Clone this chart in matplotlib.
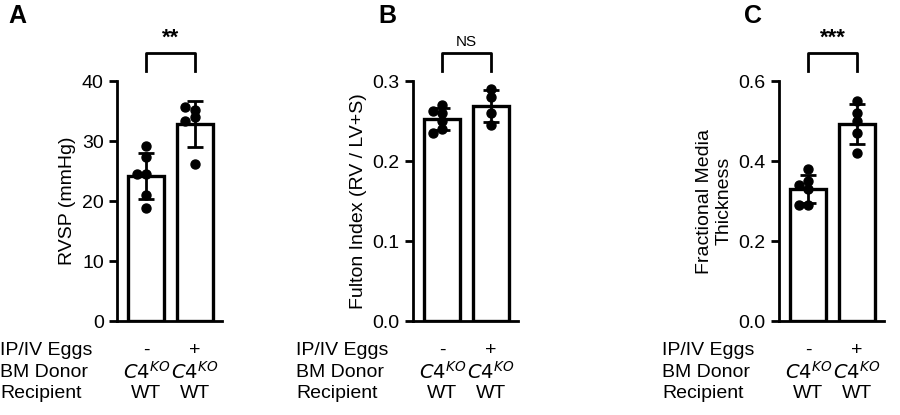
import matplotlib
matplotlib.use("Agg")
import matplotlib.pyplot as plt
import numpy as np

plt.rcParams['font.family'] = ['Liberation Sans', 'DejaVu Sans']

rvsp_ctrl = [29.2, 27.3, 24.5, 24.5, 21.0, 18.8]
rvsp_egg = [35.2, 35.7, 34.0, 33.3, 26.2]
fulton_ctrl = [0.27, 0.26, 0.262, 0.25, 0.24, 0.235]
fulton_egg = [0.29, 0.28, 0.26, 0.245]
fmt_ctrl = [0.38, 0.35, 0.34, 0.33, 0.29, 0.29]
fmt_egg = [0.55, 0.52, 0.50, 0.47, 0.42]

panels = [
    ("A", rvsp_ctrl, rvsp_egg, "RVSP (mmHg)", [0, 10, 20, 30, 40], ["0", "10", "20", "30", "40"], 40, "**"),
    ("B", fulton_ctrl, fulton_egg, "Fulton Index (RV / LV+S)", [0, 0.1, 0.2, 0.3], ["0.0", "0.1", "0.2", "0.3"], 0.3, "NS"),
    ("C", fmt_ctrl, fmt_egg, "Fractional Media\nThickness", [0, 0.2, 0.4, 0.6], ["0.0", "0.2", "0.4", "0.6"], 0.6, "***"),
]
lefts = [117, 413, 779]
letter_x = [8, 378, 744]


def swarm(vals, ymax, dx=0.2):
    # simple beeswarm: dot diameter ~ 0.03*ymax in y, dx in x
    r = 0.03 * ymax
    placed = []
    out = []
    for v in vals:
        for cand in [0, -dx, dx, -2 * dx, 2 * dx]:
            if all(abs(cand - px) >= dx * 0.9 or abs(v - py) >= r for px, py in placed):
                break
        placed.append((cand, v))
        out.append(cand)
    return np.array(out)


fig = plt.figure(figsize=(9, 4.15), dpi=100)
for i, (lab, c, e, ylab, ticks, tlabs, ymax, sig) in enumerate(panels):
    ax = fig.add_axes([lefts[i] / 900, 1 - 321 / 415, 105 / 900, 240 / 415])
    xs = [0, 1]
    for x, d in zip(xs, [c, e]):
        m = np.mean(d); s = np.std(d, ddof=1)
        ax.bar(x, m, width=0.74, color="white", edgecolor="black", linewidth=2.4, zorder=1)
        ax.errorbar(x, m, yerr=s, color="black", capsize=6, capthick=2, elinewidth=2, zorder=3)
        ax.scatter(x + swarm(d, ymax), d, s=42, color="black", zorder=4, clip_on=False)
    ax.set_xlim(-0.6, 1.55)
    ax.set_ylim(0, ymax)
    ax.set_yticks(ticks)
    ax.set_yticklabels(tlabs, fontsize=14)
    ax.set_xticks([])
    ax.tick_params(axis='y', width=2, length=6)
    for sp in ["top", "right"]:
        ax.spines[sp].set_visible(False)
    for sp in ["left", "bottom"]:
        ax.spines[sp].set_linewidth(2)
    ax.set_ylabel(ylab, fontsize=14)
    yb0 = ymax * 1.04; yb1 = ymax * 1.115
    ax.plot([0, 0, 1, 1], [yb0, yb1, yb1, yb0], color="black", lw=2, clip_on=False)
    ax.text(0.5, yb1 + ymax * 0.02, sig, ha="center", va="bottom",
            fontsize=16 if sig != "NS" else 11, fontweight="bold" if sig != "NS" else "normal")
    fig.text(letter_x[i] / 900, 1 - 16 / 415, lab, fontsize=18, fontweight="bold", va="center")
    for x, pm in zip(xs, ["-", "+"]):
        xf = ax.transData.transform((x, 0))[0] / 900
        fig.text(xf, 1 - 350 / 415, pm, ha="center", va="center", fontsize=14)
        fig.text(xf, 1 - 372 / 415, r"$C4^{KO}$", ha="center", va="center", fontsize=14)
        fig.text(xf, 1 - 393 / 415, "WT", ha="center", va="center", fontsize=14)
    lx = (lefts[i] - 117) / 900
    for yy, t in zip([350, 372, 393], ["IP/IV Eggs", "BM Donor", "Recipient"]):
        fig.text(lx, 1 - yy / 415, t, ha="left", va="center", fontsize=14)

fig.savefig("out.png", dpi=100)
